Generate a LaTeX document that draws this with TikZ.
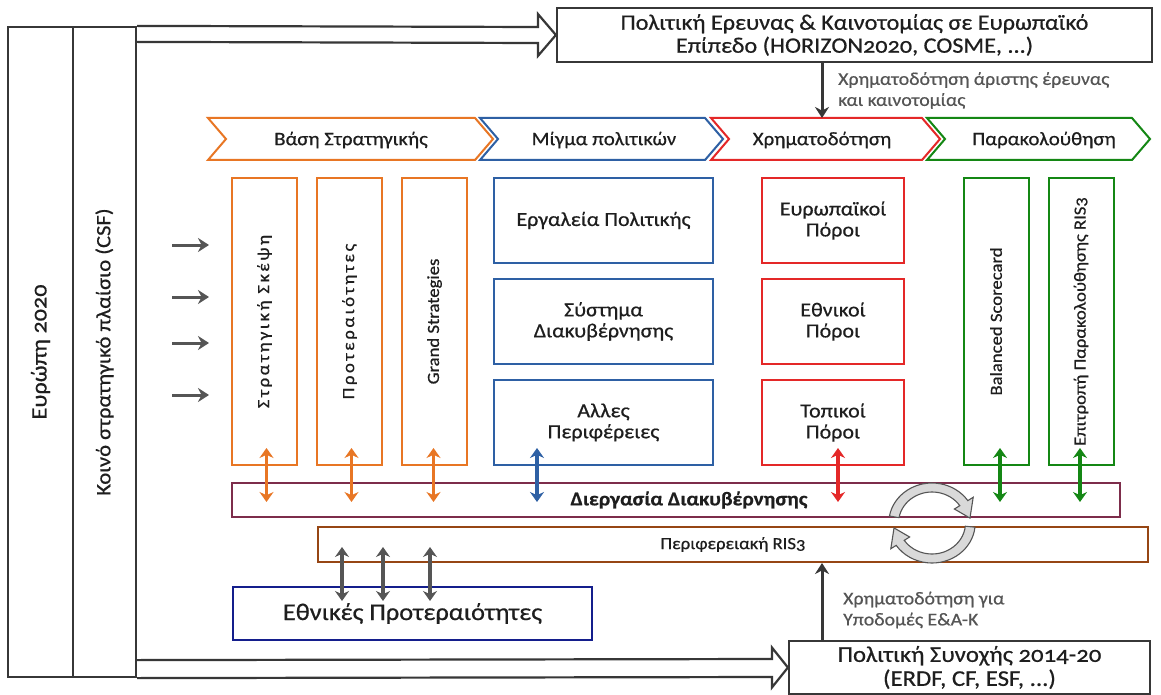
\documentclass[tikz,border=0pt]{standalone}
\usepackage{fontspec}
\setmainfont{Carlito}[Numbers=OldStyle, FakeStretch=1.1, FakeBold=0.6]
\newfontfamily\spaced{Carlito}[Numbers=OldStyle, FakeStretch=1.1, FakeBold=0.6, LetterSpace=15]
\usepackage{graphicx}
\usetikzlibrary{arrows.meta,calc}
\definecolor{corange}{RGB}{232,118,36}
\definecolor{cblue}{RGB}{46,96,164}
\definecolor{cred}{RGB}{228,40,40}
\definecolor{cgreen}{RGB}{20,135,20}
\definecolor{cnavy}{RGB}{20,30,140}
\definecolor{cplum}{RGB}{125,45,75}
\definecolor{cbrown}{RGB}{150,70,20}
\definecolor{cdark}{RGB}{55,55,55}
\definecolor{cgray}{RGB}{85,85,85}
\definecolor{ctext}{RGB}{30,30,30}
\newcommand\fsz[2]{\fontsize{#1}{#2}\selectfont}
\newcommand\chevshape[3]{\draw[line width=2pt, draw=#3, fill=white] (#1,118) -- (#2,118) -- ({#2+18},139) -- (#2,160) -- (#1,160) -- ({#1+18},139) -- cycle;}
\begin{document}
\begin{tikzpicture}[x=1pt,y=-1pt,
  box/.style={draw, line width=2pt, fill=white, inner sep=0pt, align=center, text=ctext},
  blkbox/.style={box, draw=cdark, line width=2.2pt},
  obox/.style={box, draw=corange, minimum width=65, minimum height=287, font=\fsz{17}{20}},
  gbox/.style={box, draw=cgreen, minimum width=65, minimum height=287, font=\fsz{17}{20}},
  bbox/.style={box, draw=cblue, minimum width=219, minimum height=85, font=\fsz{20}{21}},
  rbox/.style={box, draw=cred, minimum width=142, minimum height=85, font=\fsz{20}{21}},
  chevtxt/.style={inner sep=0pt, text=ctext, font=\fsz{19}{22}},
  lbl/.style={inner sep=0pt, align=left, text=cgray, font=\fsz{18}{21}},
  dbl/.style={line width=3.4pt, {Stealth[length=10pt,width=14pt]}-{Stealth[length=10pt,width=14pt]}},
  sarr/.style={line width=3pt, draw=cdark, -{Stealth[length=11pt,width=14pt]}},
  hollow/.style={draw=cdark, line width=2.2pt, line join=miter},
  cyc/.style={draw=cgray, line width=1.1pt, fill=black!15}
]
\useasboundingbox (0,0) rectangle (1161,695);
\fill[white] (0,0) rectangle (1161,695);

% left framework boxes
\node[blkbox, minimum width=65, minimum height=650, font=\fsz{22}{25}] (eu) at (40.5,352) {\rotatebox{90}{Ευρώπη 2020}};
\node[blkbox, minimum width=63, minimum height=650, font=\fsz{20.5}{24}] (csf) at (104.5,352) {\rotatebox{90}{Κοινό στρατηγικό πλαίσιο (CSF)}};

% top and bottom policy boxes
\node[blkbox, minimum width=595, minimum height=54, font=\fsz{22}{23}] (top) at (854.5,35) {Πολιτική Ερευνας \& Καινοτομίας σε Ευρωπαϊκό\\Επίπεδο (HORIZON2020, COSME, ...)};
\node[blkbox, minimum width=361, minimum height=53, font=\fsz{22.5}{24}] (coh) at (969.5,667.5) {Πολιτική Συνοχής 2014-20\\(ERDF, CF, ESF, ...)};

% hollow arrows
\draw[hollow] (csf.north east) -- ($(top.west)+(-18,-8)$) -- ($(top.west)+(-18,-21)$) -- (top.west) -- ($(top.west)+(-18,21)$) -- ($(top.west)+(-18,8)$) -- ($(csf.north east)+(0,16)$);
\draw[hollow] (csf.south east) -- ($(coh.west)+(-16,9.5)$) -- ($(coh.west)+(-16,20)$) -- (coh.west) -- ($(coh.west)+(-16,-20)$) -- ($(coh.west)+(-16,-8.5)$) -- ($(csf.south east)+(0,-18)$);

% chevrons
\chevshape{208}{475}{corange}
\chevshape{480}{705}{cblue}
\chevshape{711}{922}{cred}
\chevshape{927}{1132}{cgreen}
\node[chevtxt] (c1) at (351,140) {Βάση Στρατηγικής};
\node[chevtxt] (c2) at (604,140) {Μίγμα πολιτικών};
\node[chevtxt] (c3) at (822,140) {Χρηματοδότηση};
\node[chevtxt] (c4) at (1044,140) {Παρακολούθηση};
\coordinate (c3top) at (822,118);

% funding from top
\coordinate (tu) at ([xshift=-32.5pt]top.south);
\draw[sarr] (tu) -- (tu |- c3top);
\node[lbl, anchor=west] (lab1) at (838,90.5) {Χρηματοδότηση άριστης έρευνας\\και καινοτομίας};

% orange boxes
\node[obox] (o1) at (264.5,321.5) {\rotatebox{90}{\spaced Στρατηγική Σκέψη}};
\node[obox] (o2) at (349.5,321.5) {\rotatebox{90}{\spaced Προτεραιότητες}};
\node[obox] (o3) at (434.5,321.5) {\rotatebox{90}{Grand Strategies}};

% blue boxes
\node[bbox] (b1) at (603.5,220.5) {Εργαλεία Πολιτικής};
\node[bbox] (b2) at (603.5,321.5) {Σύστημα\\Διακυβέρνησης};
\node[bbox] (b3) at (603.5,422.5) {Αλλες\\Περιφέρειες};

% red boxes
\node[rbox] (r1) at (833,220.5) {Ευρωπαϊκοί\\Πόροι};
\node[rbox] (r2) at (833,321.5) {Εθνικοί\\Πόροι};
\node[rbox] (r3) at (833,422.5) {Τοπικοί\\Πόροι};

% green boxes
\node[gbox] (g1) at (996,321.5) {\rotatebox{90}{Balanced Scorecard}};
\node[gbox] (g2) at (1081,321.5) {\rotatebox{90}{Επιτροπή Παρακολούθησης RIS3}};

% bars
\node[box, draw=cplum, minimum width=888, minimum height=34, font=\fsz{19.5}{22}\bfseries] (gov) at (676,500) {\hspace*{26pt}Διεργασία Διακυβέρνησης};
\node[box, draw=cbrown, minimum width=830, minimum height=35, font=\fsz{17}{20}] (ris) at (733,544.5) {Περιφερειακή RIS3};
\node[box, draw=cnavy, minimum width=359, minimum height=53, font=\fsz{24}{26}] (nat) at (412.5,613.5) {Εθνικές Προτεραιότητες};

% left input arrows
\foreach \yy/\nm in {245/la1,297/la2,343/la3,395/la4}{
  \coordinate (\nm) at (172,\yy);
  \draw[sarr, draw=cgray] (\nm) -- ([xshift=-22pt]\nm -| o1.west);
}

% double arrows to governance bar
\draw[dbl, corange] ([xshift=2pt,yshift=18pt]o1.south) -- ([xshift=2pt,yshift=-20pt]o1.south |- gov.north);
\draw[dbl, corange] ([xshift=2pt,yshift=18pt]o2.south) -- ([xshift=2pt,yshift=-20pt]o2.south |- gov.north);
\draw[dbl, corange] ([xshift=-1pt,yshift=18pt]o3.south) -- ([xshift=-1pt,yshift=-20pt]o3.south |- gov.north);
\coordinate (bq) at ([xshift=-66.5pt]b3.south);
\draw[dbl, cblue] ([yshift=18pt]bq) -- ([yshift=-20pt]bq |- gov.north);
\coordinate (rq) at ([xshift=5pt]r3.south);
\draw[dbl, cred] ([yshift=18pt]rq) -- ([yshift=-20pt]rq |- gov.north);
\coordinate (gq1) at ([xshift=4pt]g1.south);
\draw[dbl, cgreen] ([yshift=18pt]gq1) -- ([yshift=-20pt]gq1 |- gov.north);
\coordinate (gq2) at ([xshift=-1pt]g2.south);
\draw[dbl, cgreen] ([yshift=18pt]gq2) -- ([yshift=-20pt]gq2 |- gov.north);

% national priorities arrows
\foreach \dx/\nm in {-70.5/n1,-29.5/n2,17.5/n3}{
  \coordinate (\nm) at ([xshift=\dx pt]nat.north);
  \draw[dbl, cgray] ([yshift=-15pt]\nm) -- ([yshift=-21pt]\nm |- ris.north);
}

% funding from cohesion policy
\coordinate (cu) at ([xshift=-147.5pt]coh.north);
\draw[sarr] (cu) -- (cu |- ris.south);
\node[lbl, anchor=west] (lab2) at (843,610) {Χρηματοδότηση για\\Υποδομές Ε\&Α-Κ};

% cycle arrows
\begin{scope}[shift={(932,523)}, xscale=1.08]
\draw[cyc] (170:40pt) arc[start angle=170,end angle=34,radius=40pt] -- (34:46pt) -- (8:35.5pt) -- (34:25pt) -- (34:31pt) arc[start angle=34,end angle=170,radius=31pt] -- cycle;
\draw[cyc] (-6:40pt) arc[start angle=-6,end angle=-146,radius=40pt] -- (-146:46pt) -- (-172:35.5pt) -- (-146:25pt) -- (-146:31pt) arc[start angle=-146,end angle=-6,radius=31pt] -- cycle;
\end{scope}
\end{tikzpicture}
\end{document}
